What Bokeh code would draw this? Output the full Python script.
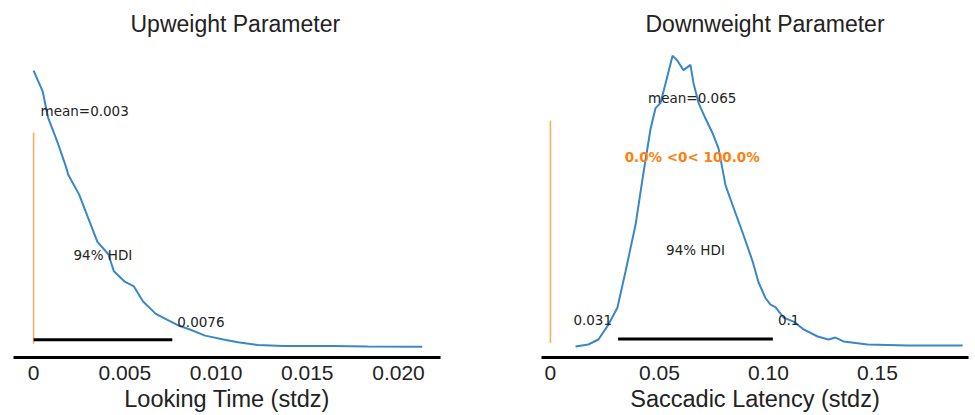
from bokeh.plotting import figure
from bokeh.layouts import row
from bokeh.models import FixedTicker, Range1d
from bokeh.core.properties import value
from bokeh.embed import file_html
from bokeh.resources import INLINE

# ---------------- data ----------------
up_title = "Upweight Parameter"
up_xlabel = "Looking Time (stdz)"
up_x = [0.0, 0.0005, 0.0008, 0.0013, 0.0018, 0.0019, 0.0025, 0.0030, 0.0035, 0.0041,
        0.0044, 0.0050, 0.0055, 0.0060, 0.0067, 0.0072, 0.0079, 0.0085, 0.0094, 0.0104,
        0.0112, 0.0123, 0.0137, 0.0164, 0.0183, 0.0213]
up_density = [292, 270, 242, 217, 189, 182, 161, 136, 111, 98,
              80, 69, 64, 48, 35, 30, 23, 19, 12, 8,
              5, 2, 1, 1, 0.5, 0.3]
up_mean = 0.0028
up_mean_label = "mean=0.003"
up_hdi = [0.0, 0.0076]
up_hdi_labels = ["", "0.0076"]
up_ref = 0.0
up_ref_label = ""
up_ticks = [0, 0.005, 0.010, 0.015, 0.020]
up_tick_labels = ["0", "0.005", "0.010", "0.015", "0.020"]

down_title = "Downweight Parameter"
down_xlabel = "Saccadic Latency (stdz)"
down_x = [0.0115, 0.0174, 0.0220, 0.0266, 0.0307, 0.0344, 0.0390, 0.0427, 0.0459, 0.0482,
          0.0505, 0.0528, 0.0560, 0.0583, 0.0610, 0.0642, 0.0656, 0.0679, 0.0711, 0.0743,
          0.0771, 0.0803, 0.0835, 0.0881, 0.0927, 0.0954, 0.0986, 0.1009, 0.1032, 0.1069,
          0.1115, 0.1161, 0.1225, 0.1275, 0.1307, 0.1344, 0.1454, 0.1638, 0.1890]
down_density = [0.0, 0.15, 0.53, 1.67, 2.96, 5.7, 9.27, 13.3, 16.6, 18.2,
                18.6, 20.1, 22.2, 21.8, 21.1, 21.5, 20.1, 18.6, 17.4, 16.3,
                15.1, 12.3, 10.8, 8.7, 6.5, 4.9, 3.7, 3.2, 3.0, 2.2,
                1.9, 1.3, 0.76, 0.53, 0.68, 0.38, 0.15, 0.08, 0.08]
down_mean = 0.065
down_mean_label = "mean=0.065"
down_hdi = [0.031, 0.102]
down_hdi_labels = ["0.031", "0.1"]
down_ref = 0.0
down_ref_label = "0.0% <0< 100.0%"
down_ticks = [0, 0.05, 0.10, 0.15]
down_tick_labels = ["0", "0.05", "0.10", "0.15"]

hdi_label = "94% HDI"

CURVE = "#3a87c6"
ORANGE = "#ff7f0e"
TXT = "#222222"
ANN_FONT = value("DejaVu Sans")


def panel(title, xlabel, xs, dens, mean, mean_label, hdi, hdi_labels, ref, ref_label,
          ticks, tick_labels, xr, ytop_frac, width, border_left, border_right, title_offset):
    peak = max(dens)
    p = figure(width=width, height=415, output_backend="svg", toolbar_location=None,
               x_range=Range1d(*xr), y_range=Range1d(-0.038 * peak, ytop_frac * peak),
               y_axis_location=None, min_border_left=border_left, min_border_right=border_right,
               min_border_top=45, min_border_bottom=58, background_fill_color="white",
               border_fill_color="white")
    p.outline_line_color = None
    p.grid.visible = False
    p.title.text = title
    p.title.align = "left"
    p.title.offset = title_offset
    p.title.standoff = 17
    p.title.text_font = "Liberation Sans"
    p.title.text_font_size = "23px"
    p.title.text_font_style = "normal"
    p.title.text_color = TXT

    ax = p.xaxis[0]
    ax.ticker = FixedTicker(ticks=ticks)
    ax.major_label_overrides = {t: l for t, l in zip(ticks, tick_labels)}
    ax.axis_line_width = 3
    ax.axis_line_color = "black"
    ax.major_tick_line_color = None
    ax.minor_tick_line_color = None
    ax.major_tick_out = 0
    ax.major_tick_in = 0
    ax.major_label_standoff = 8
    ax.major_label_text_font = "Liberation Sans"
    ax.major_label_text_font_size = "21px"
    ax.major_label_text_line_height = 1.0
    ax.major_label_text_color = TXT
    ax.axis_label = xlabel
    ax.axis_label_text_font = "Liberation Sans"
    ax.axis_label_text_font_size = "23.5px"
    ax.axis_label_text_line_height = 1.0
    ax.axis_label_text_font_style = "normal"
    ax.axis_label_text_color = TXT
    ax.axis_label_standoff = 3

    # reference line
    p.segment(x0=[ref], y0=[0.012 * peak], x1=[ref], y1=[0.776 * peak],
              line_color=ORANGE, line_alpha=0.65, line_width=1.6)
    # density
    p.line(xs, dens, line_color=CURVE, line_width=2)
    # hdi bar
    p.segment(x0=[hdi[0]], y0=[0.026 * peak], x1=[hdi[1]], y1=[0.026 * peak],
              line_color="black", line_width=3, line_cap="butt")
    # texts
    p.text(x=[mean], y=[0.855 * peak], text=[mean_label], text_font=ANN_FONT,
           text_font_size="13.5px", text_align="center", text_baseline="middle", text_color=TXT)
    p.text(x=[(hdi[0] + hdi[1]) / 2], y=[0.333 * peak], text=[hdi_label], text_font=ANN_FONT,
           text_font_size="13.5px", text_align="center", text_baseline="middle", text_color=TXT)
    if hdi_labels[0]:
        p.text(x=[hdi[0]], y=[0.092 * peak], text=[hdi_labels[0]], text_font=ANN_FONT,
               text_font_size="13.5px", text_align="right", text_baseline="middle",
               text_color=TXT, x_offset=-6)
    if hdi_labels[1]:
        p.text(x=[hdi[1]], y=[0.092 * peak], text=[hdi_labels[1]], text_font=ANN_FONT,
               text_font_size="13.5px", text_align="left", text_baseline="middle",
               text_color=TXT, x_offset=5)
    if ref_label:
        p.text(x=[mean], y=[0.65 * peak], text=[ref_label], text_font=ANN_FONT,
               text_font_size="13.5px", text_font_style="bold", text_align="center",
               text_baseline="middle", text_color=ORANGE)
    return p


p1 = panel(up_title, up_xlabel, up_x, up_density, up_mean, up_mean_label, up_hdi,
           up_hdi_labels, up_ref, up_ref_label, up_ticks, up_tick_labels,
           (-0.0011, 0.0223), 1.091, 490, 13, 50, 117)
p2 = panel(down_title, down_xlabel, down_x, down_density, down_mean, down_mean_label,
           down_hdi, down_hdi_labels, down_ref, down_ref_label, down_ticks, down_tick_labels,
           (-0.0041, 0.1917), 1.035, 485, 51, 7, 104)

layout = row(p1, p2)
open("out.html", "w").write(file_html(layout, INLINE))
